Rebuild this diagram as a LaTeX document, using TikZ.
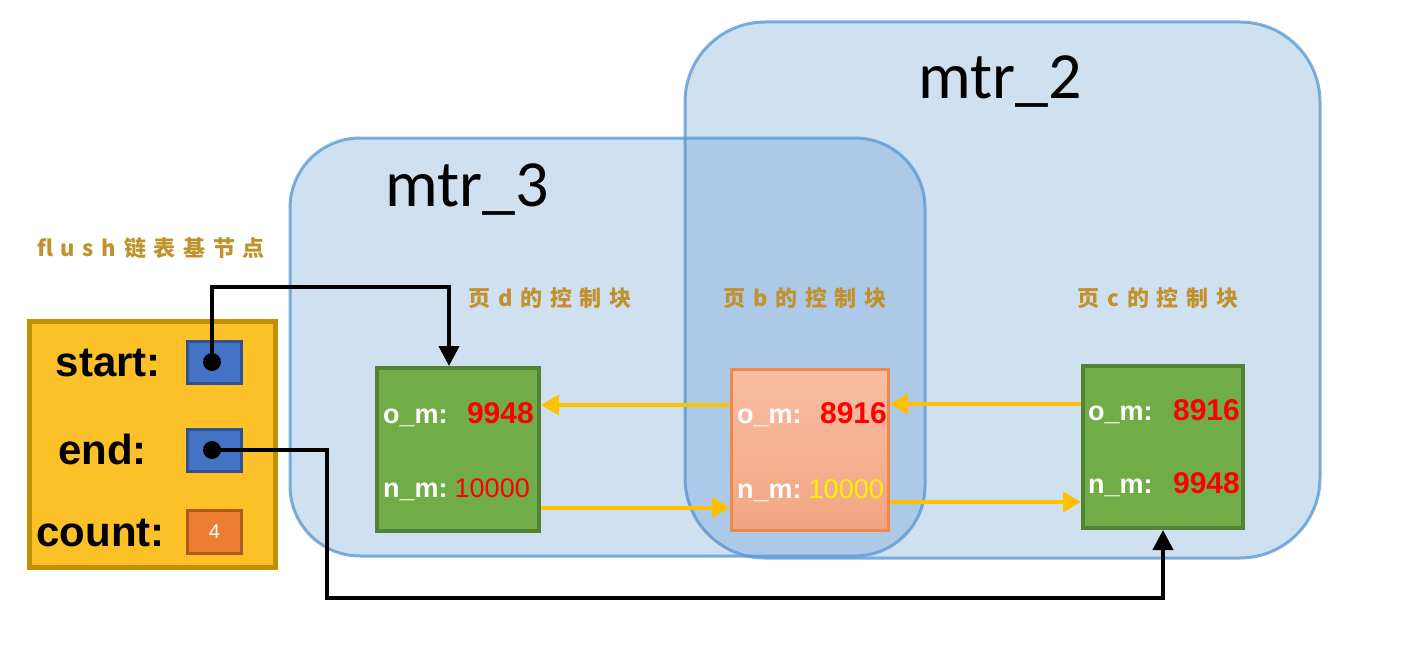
\documentclass[tikz,border=0pt]{standalone}
\usepackage{fontspec}
\setmainfont{Liberation Sans}
\newfontfamily\cjkf[LetterSpace=35]{Noto Sans CJK SC}
\newfontfamily\calib{Carlito}
\usetikzlibrary{arrows.meta}
\definecolor{mtrfill}{RGB}{77,140,203}
\definecolor{mtrline}{RGB}{91,155,213}
\definecolor{gfill}{RGB}{112,173,71}
\definecolor{gline}{RGB}{84,130,53}
\definecolor{ofill}{RGB}{252,192,40}
\definecolor{oline}{RGB}{191,144,0}
\definecolor{bfill}{RGB}{68,114,196}
\definecolor{bline}{RGB}{47,82,143}
\definecolor{cfill}{RGB}{237,125,49}
\definecolor{cline}{RGB}{174,90,33}
\definecolor{stop}{RGB}{248,190,165}
\definecolor{sbot}{RGB}{243,164,128}
\definecolor{sline}{RGB}{240,135,75}
\definecolor{lbl}{RGB}{192,145,45}
\definecolor{ylw}{RGB}{255,192,0}
\begin{document}
\begin{tikzpicture}[x=1pt,y=-1pt,
  mtr/.style={draw=mtrline, draw opacity=0.8, line width=3pt, fill=mtrfill, fill opacity=0.27, text opacity=1},
  mtrtext/.style={font=\calib\fontsize{66}{74}\selectfont, text=black},
  gbox/.style={draw=gline, fill=gfill, line width=4pt},
  sbox/.style={draw=sline, top color=stop, bottom color=sbot, line width=3pt},
  ptr/.style={draw=bline, fill=bfill, line width=3pt, minimum width=54pt, minimum height=42pt},
  ctl/.style={font=\cjkf\bfseries\fontsize{22}{26}\selectfont, text=lbl},
  fld/.style={font=\bfseries\fontsize{27}{30}\selectfont, text=white, anchor=base west, inner sep=0pt},
  val/.style={font=\fontsize{27}{30}\selectfont, anchor=base east, inner sep=0pt},
  bval/.style={val, font=\bfseries\fontsize{30}{32}\selectfont},
  base/.style={font=\bfseries\fontsize{42}{48}\selectfont, text=black, inner sep=0pt, anchor=base east},
  blk/.style={draw=black, line width=4pt, -{Triangle[width=20pt,length=20pt]}},
  ya/.style={draw=ylw, line width=4pt, -{Triangle[width=20pt,length=18pt]}},
  dot/.style={circle, fill=black, minimum size=18pt, inner sep=0pt}
]
\useasboundingbox (0,0) rectangle (1406,661);

% memory transaction regions
\node[mtr, minimum width=635pt, minimum height=536pt, rounded corners=80pt] (m2) at (1002.5,290) {};
\node[mtr, minimum width=635pt, minimum height=418pt, rounded corners=70pt] (m3) at (607.5,347) {};
\node[mtrtext] (m2t) at (1000,82) {mtr\_2};
\node[mtrtext] (m3t) at (467,190) {mtr\_3};

% flush list base node
\node[ctl] (flbl) at (151,248) {flush链表基节点};
\node[draw=oline, fill=ofill, line width=5pt, minimum width=246pt, minimum height=246pt] (fb) at (152.5,444.5) {};
\node[base] (st) at (161,376) {start:};
\node[base] (en) at (147,464) {end:};
\node[base] (co) at (165,546) {count:};
\node[ptr] (sp) at (214.5,362.5) {};
\node[ptr] (ep) at (214.5,450) {};
\node[draw=cline, fill=cfill, line width=3pt, minimum width=54pt, minimum height=43pt,
      font=\fontsize{20}{24}\selectfont, text=white] (cn) at (214.5,532) {4};
\node[dot] (sdot) at (212,362) {};
\node[dot] (edot) at (212,450) {};

% control blocks
\node[ctl] (ld) at (550,298) {页d的控制块};
\node[ctl] (lb) at (805,298) {页b的控制块};
\node[ctl] (lc) at (1158,298) {页c的控制块};

\node[gbox, minimum width=162pt, minimum height=163pt] (d) at (458,449.5) {};
\node[sbox, minimum width=157pt, minimum height=161pt] (b) at (810,450) {};
\node[gbox, minimum width=160pt, minimum height=162pt] (c) at (1163,447) {};

\node[fld] (d1a) at (383,423) {o\_m:};
\node[bval, text=red] (d1b) at (534,423) {9948};
\node[fld] (d2a) at (383,497) {n\_m:};
\node[val, text=red] (d2b) at (530,497) {10000};

\node[fld] (b1a) at (737,423) {o\_m:};
\node[bval, text=red] (b1b) at (887,423) {8916};
\node[fld] (b2a) at (737,498) {n\_m:};
\node[val, text=yellow] (b2b) at (884,498) {10000};

\node[fld] (c1a) at (1088,420) {o\_m:};
\node[bval, text=red] (c1b) at (1240,420) {8916};
\node[fld] (c2a) at (1088,493) {n\_m:};
\node[bval, text=red] (c2b) at (1240,493) {9948};

% yellow list links
\path ([yshift=45pt]b.west) coordinate (bw1);
\draw[ya] (bw1) -- (bw1 -| d.east);
\path ([yshift=-58pt]d.east) coordinate (de1);
\draw[ya] (de1) -- (de1 -| b.west);
\path ([yshift=43pt]c.west) coordinate (cw1);
\draw[ya] (cw1) -- (cw1 -| b.east);
\path ([yshift=-52pt]b.east) coordinate (be1);
\draw[ya] (be1) -- (be1 -| c.west);

% black pointers
\coordinate (sturn) at (449,287);
\draw[blk] (sdot.center) |- (sturn) -- (sturn |- d.north);
\coordinate (eturn) at (327,598);
\draw[blk] (edot.center) -| (eturn) -| (c.south);
\end{tikzpicture}
\end{document}
